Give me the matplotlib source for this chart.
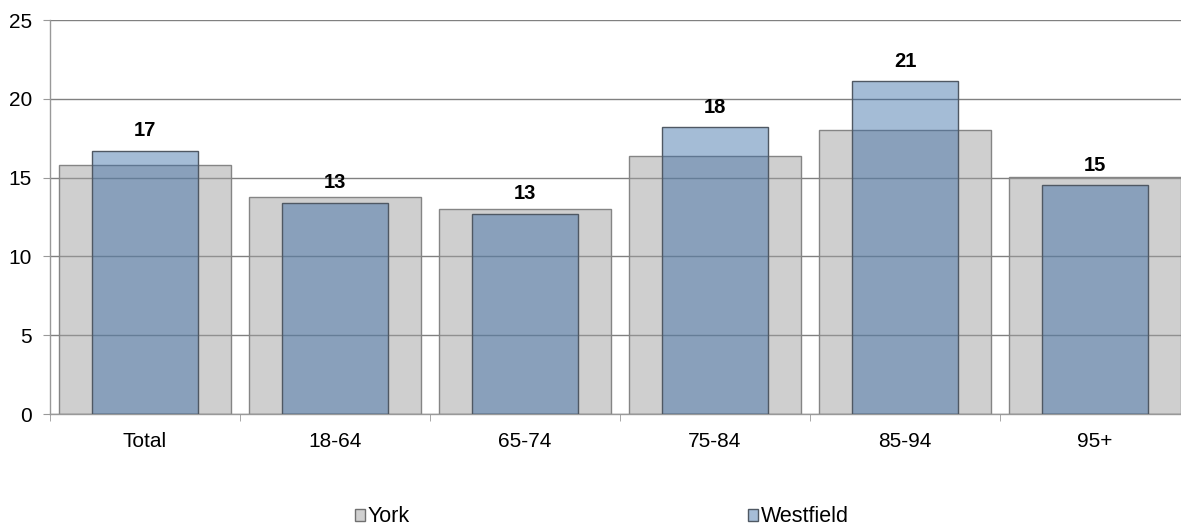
import matplotlib
matplotlib.use("Agg")
import matplotlib.pyplot as plt
from matplotlib.patches import Patch
import numpy as np

categories = ["Total", "18-64", "65-74", "75-84", "85-94", "95+"]
york = [15.8, 13.8, 13.0, 16.35, 18.0, 15.05]
westfield = [16.7, 13.4, 12.7, 18.2, 21.1, 14.5]
westfield_labels = ["17", "13", "13", "18", "21", "15"]
series_names = ["York", "Westfield"]

plt.rcParams['font.family'] = ['Liberation Sans', 'DejaVu Sans']

W, H = 1181, 528
fig = plt.figure(figsize=(W / 100, H / 100), dpi=100)
ax = fig.add_axes([50 / W, 1 - 414 / H, 1140 / W, 394 / H])

x = np.arange(len(categories))
york_face = (160 / 255, 160 / 255, 160 / 255, 0.5)
west_face = (46 / 255, 100 / 255, 161 / 255, 0.43)

ax.set_axisbelow(True)
ax.yaxis.grid(True, color="#808080", linewidth=1.0)

ax.bar(x, york, width=0.905, color=york_face, edgecolor="#858585", linewidth=1.0, zorder=2)
ax.bar(x, westfield, width=0.56, color=west_face, edgecolor="#4f5863", linewidth=1.0, zorder=3)

for xi, v, lab in zip(x, westfield, westfield_labels):
    ax.annotate(lab, (xi, v), xytext=(0, 7.5), textcoords="offset points",
                ha="center", va="bottom", fontsize=14.5, fontweight="bold", color="black")

ax.set_xlim(-0.5, len(categories) - 0.5)
ax.set_ylim(0, 25)
ax.set_yticks([0, 5, 10, 15, 20, 25])
ax.set_xticks(x)
ax.set_xticklabels(categories)
ax.set_xticks(np.arange(-0.5, len(categories), 1.0), minor=True)
ax.tick_params(axis="x", which="major", length=0, pad=13, labelsize=15)
ax.tick_params(axis="x", which="minor", length=5, color="#999999", direction="out")
ax.tick_params(axis="y", length=5, color="#999999", labelsize=15, pad=8)

for s in ["top", "right"]:
    ax.spines[s].set_visible(False)
for s in ["left", "bottom"]:
    ax.spines[s].set_color("#999999")
    ax.spines[s].set_linewidth(1.0)

handles = [
    Patch(facecolor="#d0d0d0", edgecolor="#707070", label=series_names[0]),
    Patch(facecolor="#a6bdd7", edgecolor="#4f5863", label=series_names[1]),
]
fig.legend(handles=handles, loc="center", bbox_to_anchor=(602 / W, 1 - 517 / H),
           ncol=2, frameon=False, fontsize=15.5, handlelength=0.45, handleheight=0.45,
           handletextpad=0.15, columnspacing=15.7, borderpad=0, borderaxespad=0)

fig.savefig("out.png", dpi=100)
